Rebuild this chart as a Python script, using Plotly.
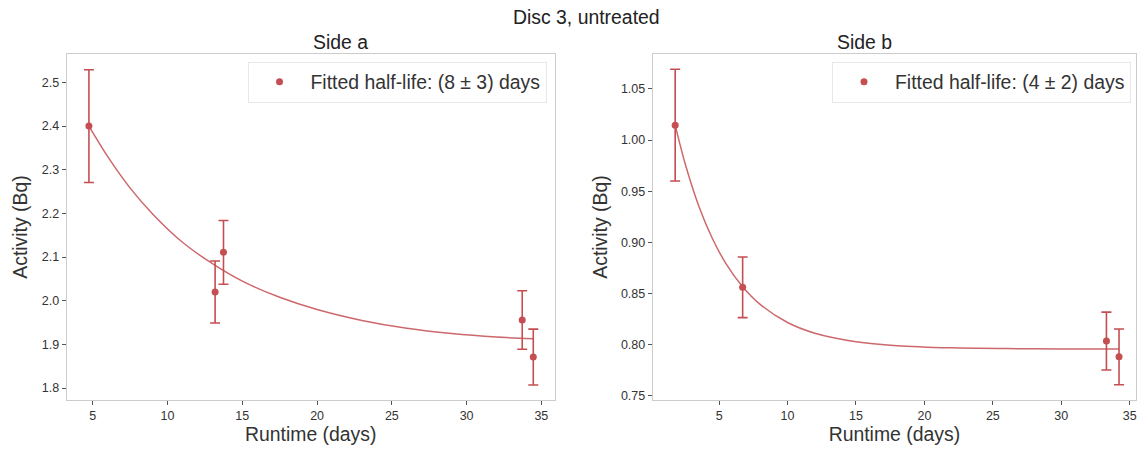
import plotly.graph_objects as go

# ---- data ----
a_runtime = [4.74, 13.18, 13.74, 33.72, 34.46]
a_activity = [2.400, 2.020, 2.111, 1.956, 1.871]
a_error = [0.129, 0.071, 0.073, 0.067, 0.064]
a_fit_t = [4.74, 6.0, 7.5, 9.0, 11.0, 13.0, 15.0, 17.5, 20.0, 23.0, 26.0, 29.0, 32.0, 34.46]
a_fit_y = [2.400, 2.330, 2.258, 2.199, 2.134, 2.085, 2.045, 2.008, 1.980, 1.955, 1.937, 1.925, 1.917, 1.913]
a_label = "Fitted half-life: (8 ± 3) days"

b_runtime = [1.79, 6.72, 33.30, 34.22]
b_activity = [1.0146, 0.856, 0.8035, 0.788]
b_error = [0.0546, 0.0296, 0.0283, 0.0272]
b_fit_t = [1.79, 2.5, 3.5, 4.5, 5.5, 6.72, 8.0, 10.0, 12.0, 15.0, 18.0, 22.0, 26.0, 30.0, 34.22]
b_fit_y = [1.0146, 0.9778, 0.9361, 0.9040, 0.8792, 0.8566, 0.8393, 0.8216, 0.8111, 0.8028, 0.7989, 0.7968, 0.7961, 0.7958, 0.7957]
b_label = "Fitted half-life: (4 ± 2) days"

x_ticks = [5, 10, 15, 20, 25, 30, 35]
a_y_ticks = [1.8, 1.9, 2.0, 2.1, 2.2, 2.3, 2.4, 2.5]
b_y_ticks = [0.75, 0.80, 0.85, 0.90, 0.95, 1.00, 1.05]

RED = "#C44E52"
FIT = "rgba(196,78,82,0.85)"
FONT = "Liberation Sans, Arial, sans-serif"
W, H = 1138, 455
BIG = 19.4

fig = go.Figure()

def add_panel(t, y, e, ft, fy, label, xa, ya, legend):
    fig.add_trace(go.Scatter(
        x=ft, y=fy, mode="lines", line=dict(color=FIT, width=1.5, shape="spline", smoothing=0.8),
        xaxis=xa, yaxis=ya, showlegend=False, hoverinfo="skip"))
    fig.add_trace(go.Scatter(
        x=t, y=y, mode="markers", name=label,
        marker=dict(color=RED, size=7),
        error_y=dict(type="data", array=e, visible=True, color=RED, thickness=1.6, width=5),
        xaxis=xa, yaxis=ya, legend=legend))

add_panel(a_runtime, a_activity, a_error, a_fit_t, a_fit_y, a_label, "x", "y", "legend")
add_panel(b_runtime, b_activity, b_error, b_fit_t, b_fit_y, b_label, "x2", "y2", "legend2")

ydom = [1 - 403 / H, 1 - 54 / H]
axis_common = dict(
    showline=True, mirror=True, linecolor="#cccccc", linewidth=1,
    ticks="outside", ticklen=4, tickcolor="#555555", tickwidth=1,
    showgrid=False, zeroline=False,
    tickfont=dict(family=FONT, size=12.5, color="#333333"),
)
title_font = dict(family=FONT, size=BIG, color="#333333")
legend_common = dict(bgcolor="rgba(255,255,255,0.8)", bordercolor="#e8e8e8", borderwidth=1,
                     font=dict(family=FONT, size=BIG, color="#333333"), itemwidth=52,
                     y=1 - 62 / H, yanchor="top", xanchor="right")

fig.update_layout(
    width=W, height=H,
    margin=dict(l=0, r=0, t=0, b=0),
    paper_bgcolor="white", plot_bgcolor="white",
    font=dict(family=FONT, color="#333333"),
    xaxis=dict(domain=[66.7 / W, 555.3 / W], range=[3.25, 35.9], tickvals=x_ticks,
               title=dict(text="Runtime (days)", font=title_font, standoff=5), anchor="y", **axis_common),
    yaxis=dict(domain=ydom, range=[1.772, 2.566], tickvals=a_y_ticks, tickformat=".1f",
               title=dict(text="Activity (Bq)", font=title_font, standoff=8), anchor="x", **axis_common),
    xaxis2=dict(domain=[653.3 / W, 1137 / W], range=[0.15, 35.46], tickvals=x_ticks,
                title=dict(text="Runtime (days)", font=title_font, standoff=5), anchor="y2", **axis_common),
    yaxis2=dict(domain=ydom, range=[0.7455, 1.0845], tickvals=b_y_ticks, tickformat=".2f",
                title=dict(text="Activity (Bq)", font=title_font, standoff=8), anchor="x2", **axis_common),
    legend=dict(x=547 / W, **legend_common),
    legend2=dict(x=1132 / W, **legend_common),
    annotations=[
        dict(text="Disc 3, untreated", x=587 / W, y=1 - 17 / H, xref="paper", yref="paper",
             showarrow=False, font=dict(family=FONT, size=BIG, color="#222222"), yanchor="middle"),
        dict(text="Side a", x=(66.7 + 555.3) / 2 / W, y=1 - 42 / H, xref="paper", yref="paper",
             showarrow=False, font=dict(family=FONT, size=BIG, color="#222222"), yanchor="middle"),
        dict(text="Side b", x=(653.3 + 1137) / 2 / W, y=1 - 42 / H, xref="paper", yref="paper",
             showarrow=False, font=dict(family=FONT, size=BIG, color="#222222"), yanchor="middle"),
    ],
)

fig.write_html("out.html")
